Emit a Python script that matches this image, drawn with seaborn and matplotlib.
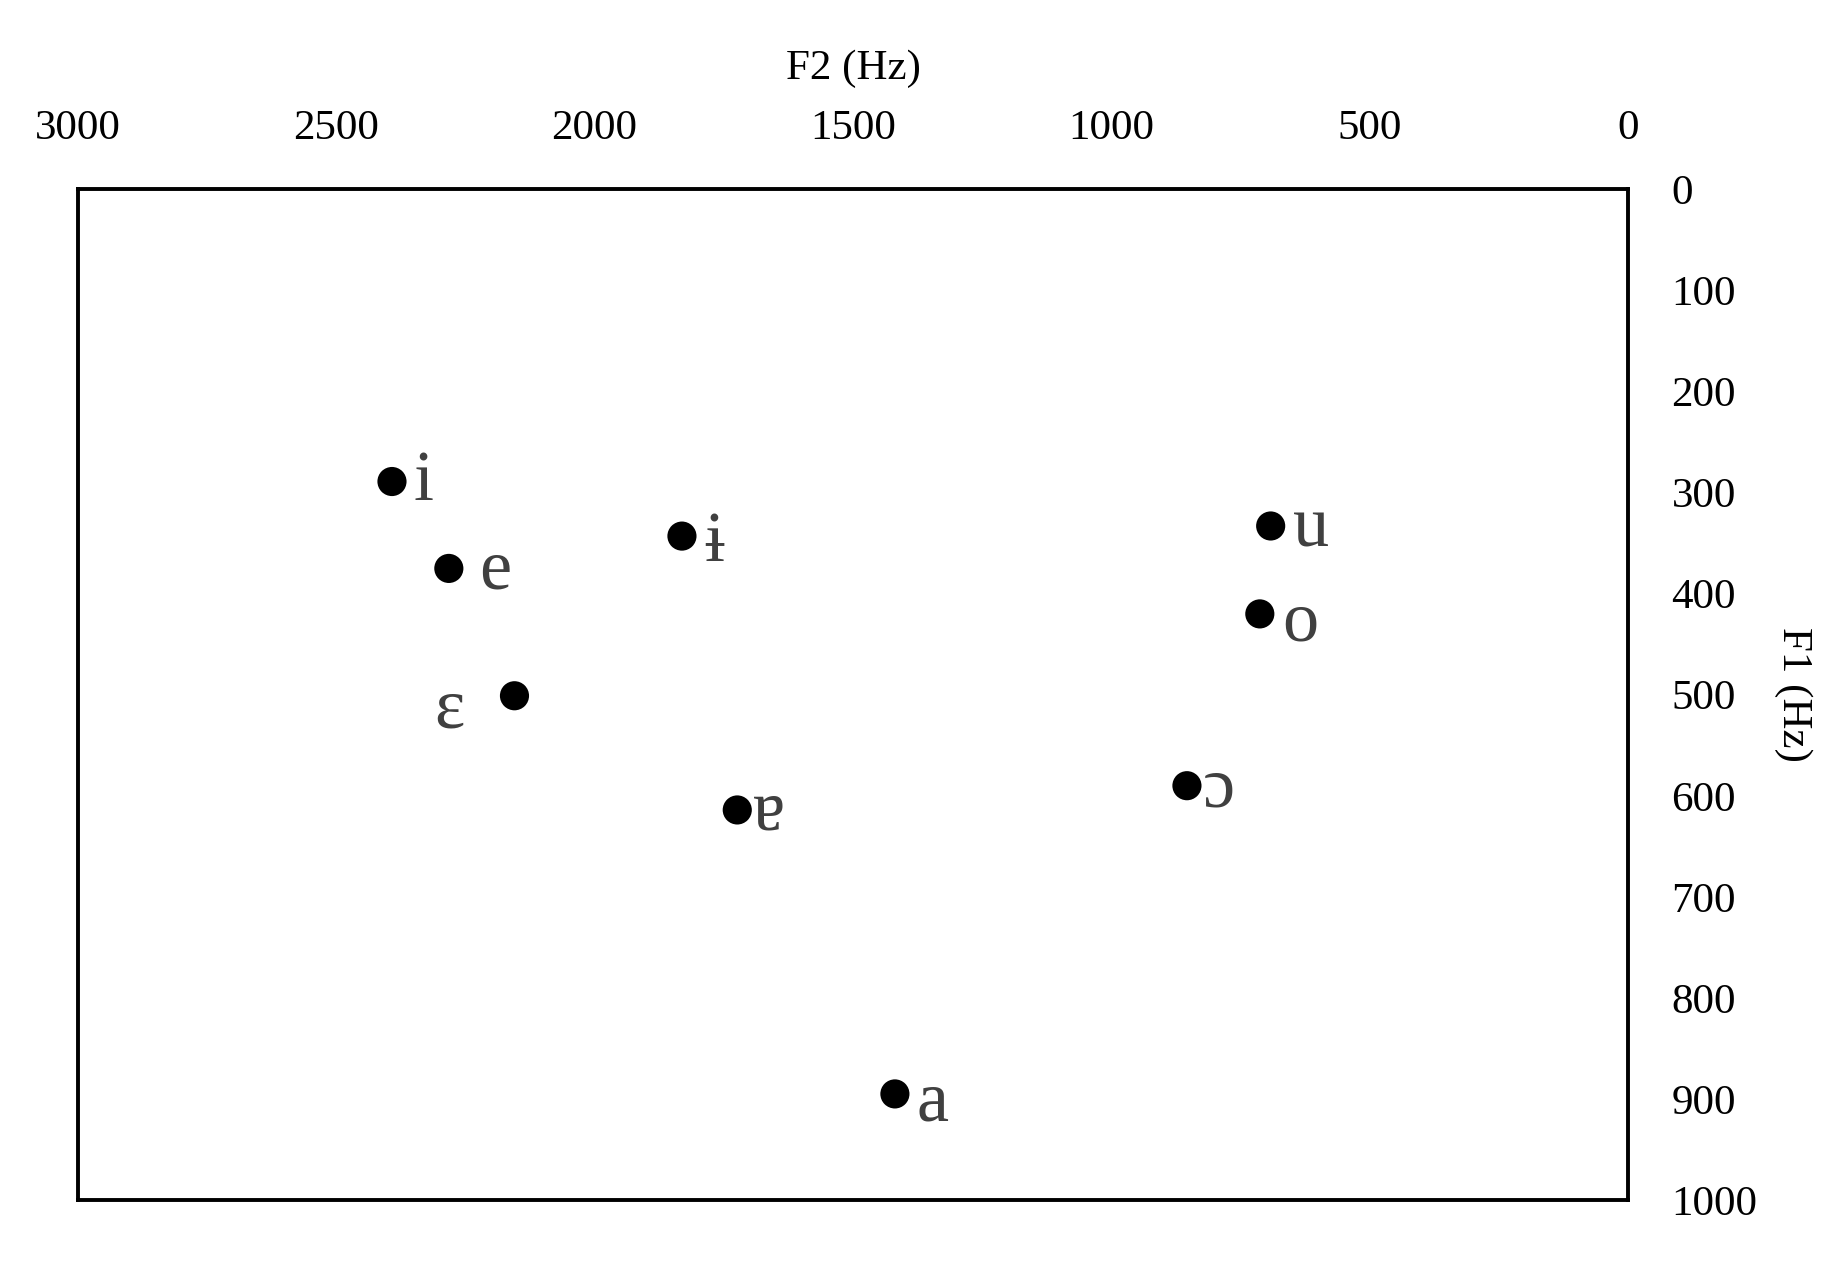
import matplotlib
matplotlib.use("Agg")
import matplotlib.pyplot as plt
import seaborn as sns
import pandas as pd

# vowel formant means (Hz)
vowels = ["i", "e", "ɛ", "ɨ", "ɐ", "a", "u", "o", "ɔ"]
f2 = [2392, 2282, 2155, 1831, 1724, 1419, 692, 713, 854]
f1 = [289, 375, 501, 343, 614, 895, 333, 420, 590]

df = pd.DataFrame({"vowel": vowels, "F2": f2, "F1": f1})

sns.set_style("white")
plt.rcParams["font.family"] = ["Liberation Serif", "DejaVu Serif"]

fig = plt.figure(figsize=(18.46, 12.75), dpi=100)
ax = fig.add_axes([0.0421, 0.0588, 0.8400, 0.7926])

sns.scatterplot(data=df, x="F2", y="F1", color="black", s=440,
                edgecolor="none", ax=ax, zorder=3)

# label offsets in pixels (dx, dy)
offsets = {"ɛ": (-50, -14), "ɐ": (16, -2), "ɔ": (16, -3), "e": (30, -3),
           "a": (22, -9), "o": (22, -9), "ɨ": (22, -7), "u": (22, -3), "i": (22, -1)}
for v, x, y in zip(vowels, f2, f1):
    dx, dy = offsets[v]
    ha = "right" if dx < 0 else "left"
    ax.annotate(v, (x, y), xytext=(dx, dy), textcoords="offset pixels",
                ha=ha, va="center", fontsize=52, color="#404040")

ax.set_xlim(3000, 0)
ax.set_ylim(1000, 0)
ax.set_xticks([3000, 2500, 2000, 1500, 1000, 500, 0])
ax.set_yticks(range(0, 1001, 100))

ax.xaxis.tick_top()
ax.xaxis.set_label_position("top")
ax.yaxis.tick_right()
ax.yaxis.set_label_position("right")
ax.tick_params(axis="x", length=0, pad=30, labelsize=31, labelcolor="black")
ax.tick_params(axis="y", length=0, pad=31, labelsize=31, labelcolor="black")
ax.set_xlabel("F2 (Hz)", fontsize=31, labelpad=22, color="black")
ax.set_ylabel("F1 (Hz)", fontsize=31, rotation=270, labelpad=40, color="black")
for lab in ax.get_yticklabels():
    lab.set_ha("left")

for sp in ax.spines.values():
    sp.set_visible(True)
    sp.set_color("black")
    sp.set_linewidth(2.8)

fig.savefig("out.png", dpi=100, facecolor="white")
